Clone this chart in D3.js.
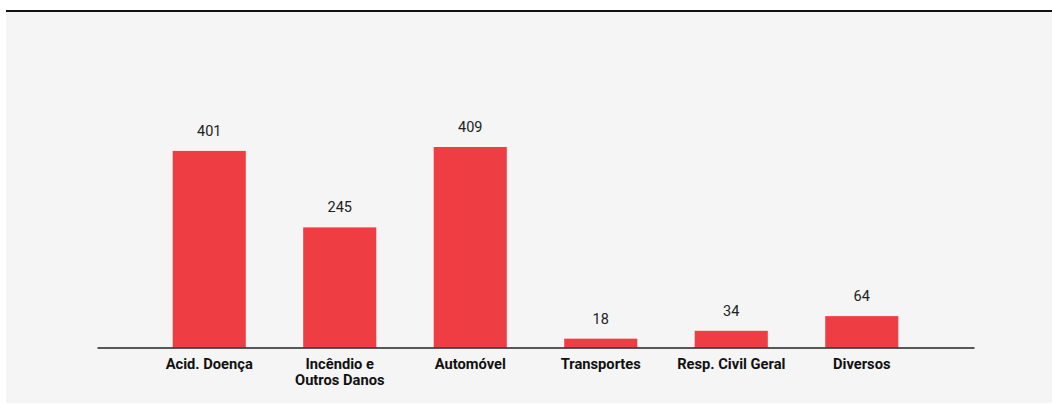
<!DOCTYPE html>
<html>
<head>
<meta charset="utf-8">
<script src="https://cdn.jsdelivr.net/npm/d3@7"></script>
<style>
  html, body { margin: 0; padding: 0; background: #ffffff; }
  svg { display: block; }
</style>
</head>
<body>
<svg id="chart" width="1052" height="404"></svg>
<script>
// Sinistros por ramo
const categories = ["Acid. Doença", "Incêndio e\nOutros Danos", "Automóvel", "Transportes", "Resp. Civil Geral", "Diversos"];
const values = [401, 245, 409, 18, 34, 64];

const W = 1052, H = 404;
const svg = d3.select("#chart");

// Panel background and top rule
svg.append("rect")
  .attr("x", 6).attr("y", 11)
  .attr("width", W - 6).attr("height", H - 12)
  .attr("fill", "#f5f5f5");
svg.append("rect")
  .attr("x", 6).attr("y", 10)
  .attr("width", W - 6).attr("height", 2)
  .attr("fill", "#111111");

const baseline = 347.5;

const x = d3.scaleBand()
  .domain(categories)
  .range([97, 974])
  .paddingInner(0.44)
  .paddingOuter(0.58);

const y = d3.scaleLinear()
  .domain([0, 409])
  .range([baseline, 147]);

const data = categories.map((c, i) => ({ cat: c, value: values[i] }));

// Bars
svg.append("g").selectAll("rect")
  .data(data)
  .join("rect")
  .attr("x", d => x(d.cat))
  .attr("y", d => y(d.value))
  .attr("width", x.bandwidth())
  .attr("height", d => baseline - y(d.value))
  .attr("fill", "#ef3e43");

// Value labels
svg.append("g").selectAll("text")
  .data(data)
  .join("text")
  .attr("x", d => x(d.cat) + x.bandwidth() / 2)
  .attr("y", d => y(d.value) - 15)
  .attr("text-anchor", "middle")
  .attr("font-family", "Roboto, 'Liberation Sans', sans-serif")
  .attr("font-size", 14.5)
  .attr("fill", "#222222")
  .text(d => d.value);

// Category axis; two-line names are split into separate text lines
const xAxis = d3.axisBottom(x).tickSize(0).tickPadding(0);
const gx = svg.append("g")
  .attr("transform", `translate(0,${baseline})`)
  .call(xAxis);
gx.select(".domain")
  .attr("stroke", "#222222")
  .attr("stroke-width", 1.5);
gx.selectAll(".tick text").remove();
gx.selectAll(".tick").each(function(d) {
  const tick = d3.select(this);
  d.split("\n").forEach((line, i) => {
    tick.append("text")
      .attr("x", 0)
      .attr("y", 21 + i * 16)
      .attr("text-anchor", "middle")
      .attr("font-family", "Roboto, 'Liberation Sans', sans-serif")
      .attr("font-weight", "bold")
      .attr("font-size", 14.7)
      .attr("fill", "#111111")
      .text(line);
  });
});
</script>
</body>
</html>
